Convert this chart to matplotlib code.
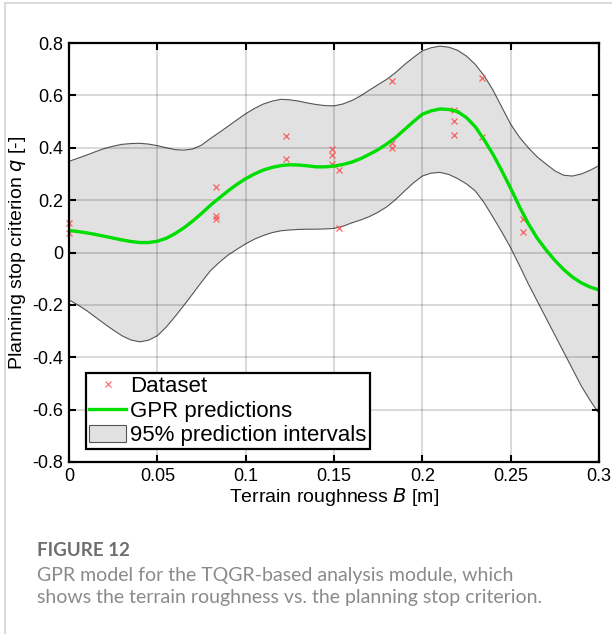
import numpy as np
import matplotlib
matplotlib.use('Agg')
import matplotlib.pyplot as plt
from matplotlib.lines import Line2D
from matplotlib.patches import Patch
from matplotlib import rcParams

rcParams.update({'font.family': ['Liberation Sans', 'DejaVu Sans'],
                 'axes.unicode_minus': False})

# GPR curve, every 0.005 m
roughness = [0.000, 0.005, 0.010, 0.015, 0.020, 0.025, 0.030, 0.035, 0.040, 0.045,
             0.050, 0.055, 0.060, 0.065, 0.070, 0.075, 0.080, 0.085, 0.090, 0.095,
             0.100, 0.105, 0.110, 0.115, 0.120, 0.125, 0.130, 0.135, 0.140, 0.145,
             0.150, 0.155, 0.160, 0.165, 0.170, 0.175, 0.180, 0.185, 0.190, 0.195,
             0.200, 0.205, 0.210, 0.215, 0.220, 0.225, 0.230, 0.235, 0.240, 0.245,
             0.250, 0.255, 0.260, 0.265, 0.270, 0.275, 0.280, 0.285, 0.290, 0.295, 0.300]
gpr_mean = [0.084, 0.080, 0.075, 0.069, 0.062, 0.055, 0.048, 0.042, 0.038, 0.038,
            0.043, 0.054, 0.072, 0.094, 0.120, 0.149, 0.180, 0.208, 0.235, 0.260,
            0.282, 0.300, 0.315, 0.325, 0.332, 0.335, 0.334, 0.331, 0.327, 0.327,
            0.330, 0.336, 0.345, 0.358, 0.375, 0.393, 0.415, 0.440, 0.470, 0.500,
            0.528, 0.541, 0.548, 0.546, 0.538, 0.515, 0.480, 0.430, 0.375, 0.312,
            0.245, 0.175, 0.110, 0.055, 0.010, -0.030, -0.065, -0.094, -0.116, -0.132, -0.143]
upper_pi = [0.348, 0.360, 0.372, 0.385, 0.397, 0.406, 0.413, 0.416, 0.417, 0.414,
            0.408, 0.400, 0.393, 0.391, 0.395, 0.410, 0.435, 0.458, 0.482, 0.506,
            0.530, 0.550, 0.567, 0.578, 0.585, 0.583, 0.578, 0.571, 0.565, 0.561,
            0.560, 0.567, 0.580, 0.598, 0.620, 0.641, 0.662, 0.688, 0.718, 0.745,
            0.770, 0.782, 0.788, 0.784, 0.772, 0.750, 0.718, 0.675, 0.620, 0.555,
            0.490, 0.440, 0.400, 0.365, 0.338, 0.312, 0.295, 0.292, 0.300, 0.314, 0.332]
lower_pi = [-0.181, -0.200, -0.222, -0.247, -0.272, -0.296, -0.318, -0.334, -0.341, -0.335,
            -0.318, -0.285, -0.245, -0.202, -0.158, -0.113, -0.070, -0.038, -0.010, 0.012,
            0.033, 0.051, 0.065, 0.076, 0.083, 0.086, 0.088, 0.089, 0.089, 0.090,
            0.092, 0.100, 0.113, 0.124, 0.137, 0.154, 0.175, 0.203, 0.235, 0.266,
            0.292, 0.303, 0.306, 0.298, 0.282, 0.262, 0.235, 0.190, 0.135, 0.078,
            0.018, -0.050, -0.120, -0.185, -0.250, -0.315, -0.380, -0.445, -0.510, -0.565, -0.615]

# dataset samples
data_x = [0.0, 0.0, 0.083, 0.083, 0.083, 0.123, 0.123, 0.149, 0.149, 0.149,
          0.153, 0.153, 0.183, 0.183, 0.183, 0.218, 0.218, 0.218, 0.234, 0.234,
          0.257, 0.257]
data_q = [0.111, 0.076, 0.251, 0.138, 0.129, 0.445, 0.357, 0.394, 0.374, 0.338,
          0.314, 0.093, 0.653, 0.417, 0.400, 0.544, 0.503, 0.447, 0.667, 0.440,
          0.128, 0.077]

xticks = [0, 0.05, 0.1, 0.15, 0.2, 0.25, 0.3]
xticklabels = ['0', '0.05', '0.1', '0.15', '0.2', '0.25', '0.3']
yticks = [-0.8, -0.6, -0.4, -0.2, 0, 0.2, 0.4, 0.6, 0.8]
yticklabels = ['-0.8', '-0.6', '-0.4', '-0.2', '0', '0.2', '0.4', '0.6', '0.8']

fig = plt.figure(figsize=(6.12, 6.34), dpi=100)
ax = fig.add_axes([69 / 612, 1 - 462 / 634, 530 / 612, 419 / 634])

ax.fill_between(roughness, lower_pi, upper_pi, facecolor='#e1e1e1',
                edgecolor='none', zorder=1)
ax.plot(roughness, upper_pi, color='#555555', lw=0.8, zorder=2)
ax.plot(roughness, lower_pi, color='#555555', lw=0.8, zorder=2)
ax.plot(data_x, data_q, 'x', color='#ff4a4a', ms=5, mew=0.9,
        alpha=0.85, ls='none', zorder=3, clip_on=False)
line, = ax.plot(roughness, gpr_mean, color='#00dd00', lw=2.4, zorder=4)

ax.set_xlim(0, 0.3)
ax.set_ylim(-0.8, 0.8)
ax.set_xticks(xticks)
ax.set_xticklabels(xticklabels)
ax.set_yticks(yticks)
ax.set_yticklabels(yticklabels)
ax.set_axisbelow(False)
ax.grid(True, color='k', alpha=0.15, lw=1.4, zorder=5)
ax.tick_params(direction='in', length=5, width=1.5, top=True, right=True,
               labelsize=13, pad=4, colors='k')
for sp in ax.spines.values():
    sp.set_linewidth(1.6)
    sp.set_zorder(6)

ax.set_xlabel('Terrain roughness $\\it{B}$ [m]', fontsize=14, labelpad=1)
ax.set_ylabel('Planning stop criterion $\\it{q}$ [-]', fontsize=14, labelpad=3)

pts_handle = Line2D([], [], marker='x', color='#ff4a4a', ms=4, mew=0.8, ls='none', alpha=0.85)
band_handle = Patch(facecolor='#e1e1e1', edgecolor='#555555', lw=0.8)
leg = ax.legend([pts_handle, line, band_handle],
                ['Dataset', 'GPR predictions', '95% prediction intervals'],
                loc='lower left', bbox_to_anchor=(0.032, 0.030), borderaxespad=0,
                fontsize=16, frameon=True, fancybox=False, framealpha=1,
                edgecolor='k', borderpad=0.15, labelspacing=0.14,
                handlelength=1.65, handletextpad=0.2, handleheight=0.8)
leg.get_frame().set_linewidth(1.6)
leg.set_zorder(10)

# page frame and caption
fig.add_artist(Line2D([4.5 / 612, 4.5 / 612], [0, 1 - 3 / 634], color='#d4d4d4', lw=1.2))
fig.add_artist(Line2D([4.5 / 612, 1], [1 - 3 / 634, 1 - 3 / 634], color='#d4d4d4', lw=1.2))
fig.text(37 / 612, 1 - 550 / 634, 'FIGURE 12', fontsize=13.5, fontweight='bold',
         color='#6e6e6e', family=['Lato', 'DejaVu Sans'], va='center')
fig.text(37 / 612, 1 - 575 / 634, 'GPR model for the TQGR-based analysis module, which',
         fontsize=14, color='#8a8a8a', family=['Lato', 'DejaVu Sans'], va='center')
fig.text(37 / 612, 1 - 598 / 634,
         'shows the terrain roughness vs. the planning stop criterion.',
         fontsize=14, color='#8a8a8a', family=['Lato', 'DejaVu Sans'], va='center')

fig.savefig('out.png', dpi=100)
